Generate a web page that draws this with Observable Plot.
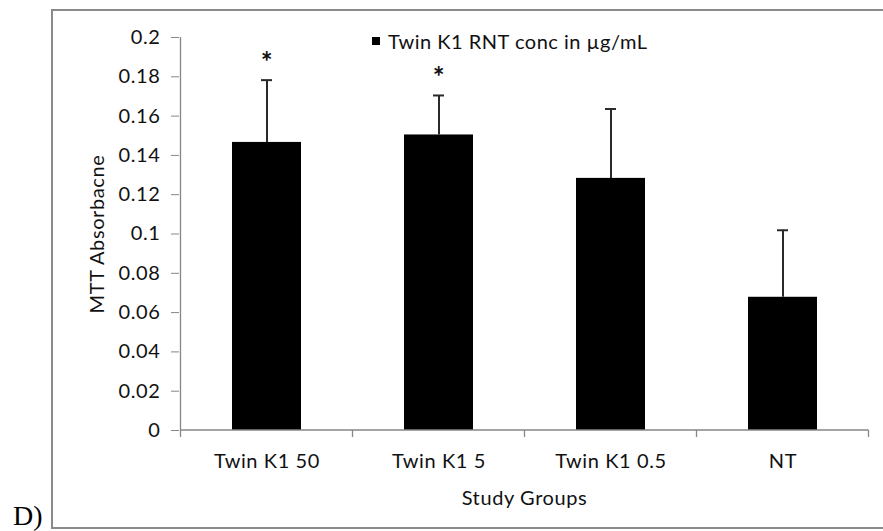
<!DOCTYPE html>
<html>
<head>
<meta charset="utf-8">
<script src="https://cdn.jsdelivr.net/npm/d3@7"></script>
<script src="https://cdn.jsdelivr.net/npm/@observablehq/plot@0.6"></script>
<style>
  html, body { margin: 0; padding: 0; background: #fff; }
  #wrap { position: relative; width: 883px; height: 531px; overflow: hidden; font-family: Lato, "Open Sans", sans-serif; }
  #chart { position: absolute; left: 0; top: 0; }
  #border { position: absolute; left: 51px; top: 9px; width: 900px; height: 520px; box-sizing: border-box; border: 2px solid #8a8a8a; }
  #panel { position: absolute; left: 13px; top: 502px; font-family: "Liberation Serif", "DejaVu Serif", serif; font-size: 28px; line-height: 28px; color: #000; }
  #legend { position: absolute; left: 372px; top: 31px; height: 20px; display: flex; align-items: center; font-size: 20px; line-height: 20px; letter-spacing: 0.5px; color: #111; }
  #legend .sw { width: 8px; height: 8px; background: #000; margin-right: 8px; }
</style>
</head>
<body>
<div id="wrap">
  <div id="border"></div>
  <div id="chart"></div>
  <div id="panel">D)</div>
  <div id="legend"><span class="sw"></span><span id="legendText"></span></div>
</div>
<script>
// ---- data ----
const categories = ["Twin K1 50", "Twin K1 5", "Twin K1 0.5", "NT"];
const means = [0.1466, 0.1504, 0.1283, 0.0678];
const errors = [0.0317, 0.0201, 0.0353, 0.0341];
const sigMarks = ["*", "*", "", ""];
const yTicks = [0, 0.02, 0.04, 0.06, 0.08, 0.1, 0.12, 0.14, 0.16, 0.18, 0.2];
const yTickLabels = ["0", "0.02", "0.04", "0.06", "0.08", "0.1", "0.12", "0.14", "0.16", "0.18", "0.2"];
const seriesName = "Twin K1 RNT conc in µg/mL";
const xTitle = "Study Groups";
const yTitle = "MTT Absorbacne";

const data = categories.map((c, i) => ({
  group: c, mean: means[i], upper: means[i] + errors[i], mark: sigMarks[i]
}));

const axisColor = "#868686";
const textColor = "#111";

// custom axis lines + category boundary ticks, positioned through the scales
const axisLines = (index, scales) => {
  const x = scales.x, y = scales.y;
  const bw = x.bandwidth ? x.bandwidth() : 0;
  const step = categories.length > 1 ? x(categories[1]) - x(categories[0]) : bw;
  const gap = (step - bw) / 2;
  const xs = categories.map(c => x(c) - gap);
  xs.push(x(categories[categories.length - 1]) + bw + gap);
  const y0 = y(0);
  const g = d3.create("svg:g").attr("stroke", axisColor).attr("stroke-width", 1.3).attr("fill", "none");
  g.append("line").attr("x1", xs[0]).attr("x2", xs[0]).attr("y1", y(yTicks[yTicks.length - 1])).attr("y2", y0);
  g.append("line").attr("x1", xs[0]).attr("x2", xs[xs.length - 1]).attr("y1", y0).attr("y2", y0);
  g.selectAll("line.tk").data(xs).join("line").attr("class", "tk")
    .attr("x1", d => d).attr("x2", d => d).attr("y1", y0).attr("y2", y0 + 7);
  return g.node();
};

const plot = Plot.plot({
  width: 883,
  height: 531,
  marginLeft: 179,
  marginRight: 14,
  marginTop: 37,
  marginBottom: 101,
  style: { fontFamily: "Lato, 'Open Sans', sans-serif", fontSize: "20px", letterSpacing: "0.6px", color: textColor, background: "transparent" },
  x: { type: "band", domain: categories, paddingInner: 0.6, paddingOuter: 0.3 },
  y: { domain: [0, 0.2] },
  marks: [
    Plot.barY(data, { x: "group", y: "mean", fill: "#000" }),
    Plot.ruleX(data, { x: "group", y1: "mean", y2: "upper", stroke: "#2a2a2a", strokeWidth: 2 }),
    Plot.tickY(data, { x: "group", y: "upper", stroke: "#2a2a2a", strokeWidth: 2, insetLeft: 29, insetRight: 29 }),
    Plot.text(data, { x: "group", y: "upper", text: "mark", dy: -17, fontSize: 28, fontWeight: "bold", fill: textColor, lineAnchor: "middle" }),
    Plot.axisY({ ticks: yTicks, tickFormat: (d) => yTickLabels[yTicks.indexOf(d)], tickSize: 8, tickPadding: 11, stroke: axisColor, fill: textColor, label: null, fontSize: 20 }),
    Plot.axisX({ tickSize: 0, tickPadding: 23, fill: textColor, label: null, fontSize: 20 }),
    axisLines,
    Plot.text([yTitle], { frameAnchor: "left", text: d => d, rotate: -90, dx: -82, textAnchor: "middle", lineAnchor: "middle", fill: textColor, fontSize: 20, style: "letter-spacing:1.4px" }),
    Plot.text([xTitle], { frameAnchor: "bottom", text: d => d, dy: 68, textAnchor: "middle", lineAnchor: "middle", fill: textColor, fontSize: 20 })
  ]
});
document.getElementById("chart").appendChild(plot);
document.getElementById("legendText").textContent = seriesName;
</script>
</body>
</html>
